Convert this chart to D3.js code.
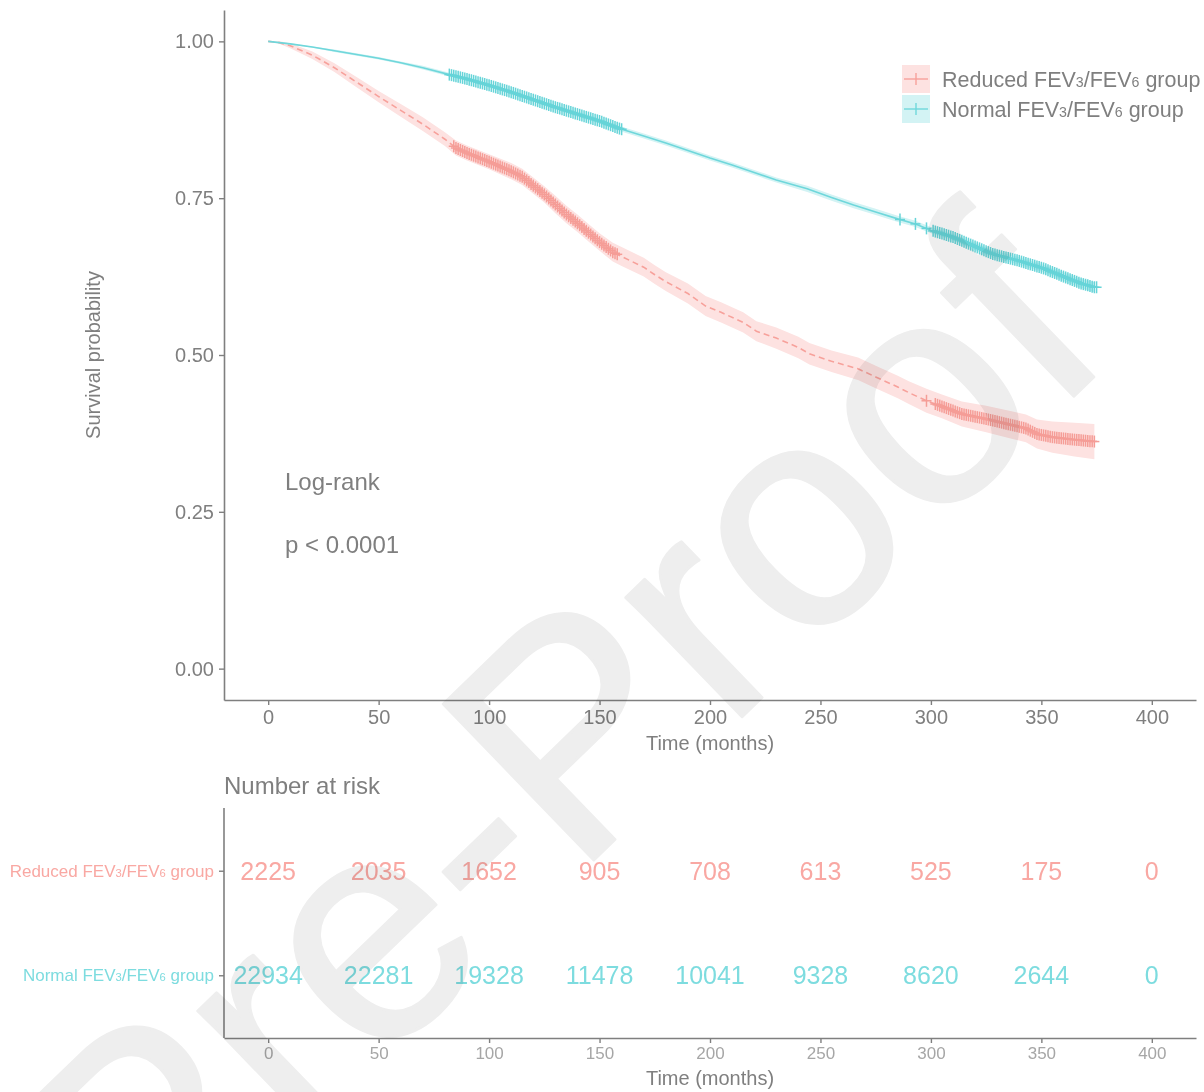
<!DOCTYPE html>
<html>
<head>
<meta charset="utf-8">
<script src="https://cdn.jsdelivr.net/npm/d3@7"></script>
<style>
  body { margin: 0; background: #fff; }
  svg { display: block; font-family: "Liberation Sans", Arial, sans-serif; }
</style>
</head>
<body>
<svg id="chart" width="1204" height="1092"></svg>
<script>
// survival curves
const timesReduced = [0, 5, 10, 20, 30, 40, 50, 60, 70, 80, 85, 90, 100, 110, 115, 120, 125, 130, 135, 140, 145, 150, 156, 160, 170, 175, 180, 190, 198, 205, 215, 221, 230, 240, 245, 255, 267, 275, 285, 290, 298, 305, 314, 325, 337, 343, 348, 355, 365, 374];
const survReduced = [1.000, 0.998, 0.993, 0.978, 0.958, 0.935, 0.912, 0.890, 0.868, 0.844, 0.830, 0.822, 0.808, 0.793, 0.784, 0.770, 0.756, 0.740, 0.724, 0.710, 0.695, 0.680, 0.664, 0.657, 0.640, 0.628, 0.617, 0.598, 0.578, 0.568, 0.552, 0.538, 0.527, 0.512, 0.502, 0.490, 0.478, 0.465, 0.449, 0.440, 0.427, 0.418, 0.406, 0.398, 0.388, 0.383, 0.374, 0.369, 0.365, 0.362];
const ciReduced = [0, 0.002, 0.004, 0.006, 0.007, 0.008, 0.009, 0.010, 0.011, 0.011, 0.012, 0.012, 0.012, 0.013, 0.013, 0.013, 0.013, 0.014, 0.014, 0.014, 0.014, 0.014, 0.015, 0.015, 0.015, 0.015, 0.015, 0.016, 0.016, 0.016, 0.016, 0.016, 0.017, 0.017, 0.017, 0.017, 0.018, 0.018, 0.018, 0.018, 0.019, 0.019, 0.020, 0.021, 0.022, 0.022, 0.023, 0.025, 0.027, 0.028];

const timesNormal = [0, 10, 20, 30, 40, 50, 60, 70, 82, 90, 100, 110, 120, 130, 140, 150, 159, 170, 180, 190, 200, 210, 220, 230, 244, 255, 265, 275, 285, 293, 300, 310, 320, 328, 340, 351, 360, 368, 374];
const survNormal = [1.000, 0.996, 0.991, 0.985, 0.979, 0.973, 0.966, 0.958, 0.947, 0.940, 0.930, 0.919, 0.907, 0.895, 0.884, 0.873, 0.861, 0.849, 0.838, 0.826, 0.814, 0.803, 0.791, 0.779, 0.765, 0.751, 0.739, 0.728, 0.717, 0.709, 0.699, 0.688, 0.673, 0.661, 0.650, 0.638, 0.625, 0.614, 0.608];
const ciNormal = [0, 0.001, 0.001, 0.002, 0.002, 0.002, 0.002, 0.003, 0.003, 0.003, 0.003, 0.003, 0.003, 0.003, 0.004, 0.004, 0.004, 0.004, 0.004, 0.004, 0.004, 0.004, 0.004, 0.004, 0.005, 0.005, 0.005, 0.005, 0.005, 0.005, 0.005, 0.005, 0.006, 0.006, 0.006, 0.006, 0.007, 0.007, 0.008];

// censoring times (months)
const censorReduced = [84, 85, 86, 87, 88, 89, 90, 91, 92, 93, 94, 95, 96, 97, 98, 99, 100, 101, 102, 103, 104, 105, 106, 107, 108, 109, 110, 111, 112, 113, 114, 115, 116, 117, 118, 119, 120, 121, 122, 123, 124, 125, 126, 127, 128, 129, 130, 131, 132, 133, 134, 135, 136, 137, 138, 139, 140, 141, 142, 143, 144, 145, 146, 147, 148, 149, 150, 151, 152, 153, 154, 155, 156, 157, 158,
  298, 302, 303, 304, 305, 306, 307, 308, 309, 310, 311, 312, 313, 314, 315, 316, 317, 318, 319, 320, 321, 322, 323, 324, 325, 326, 327, 328, 329, 330, 331, 332, 333, 334, 335, 336, 337, 338, 339, 340, 341, 342, 343, 344, 345, 346, 347, 348, 349, 350, 351, 352, 353, 354, 355, 356, 357, 358, 359, 360, 361, 362, 363, 364, 365, 366, 367, 368, 369, 370, 371, 372, 373, 374];
const censorNormal = [82, 83, 84, 85, 86, 87, 88, 89, 90, 91, 92, 93, 94, 95, 96, 97, 98, 99, 100, 101, 102, 103, 104, 105, 106, 107, 108, 109, 110, 111, 112, 113, 114, 115, 116, 117, 118, 119, 120, 121, 122, 123, 124, 125, 126, 127, 128, 129, 130, 131, 132, 133, 134, 135, 136, 137, 138, 139, 140, 141, 142, 143, 144, 145, 146, 147, 148, 149, 150, 151, 152, 153, 154, 155, 156, 157, 158, 159, 160,
  286, 293, 298, 301, 302, 303, 304, 305, 306, 307, 308, 309, 310, 311, 312, 313, 314, 315, 316, 317, 318, 319, 320, 321, 322, 323, 324, 325, 326, 327, 328, 329, 330, 331, 332, 333, 334, 335, 336, 337, 338, 339, 340, 341, 342, 343, 344, 345, 346, 347, 348, 349, 350, 351, 352, 353, 354, 355, 356, 357, 358, 359, 360, 361, 362, 363, 364, 365, 366, 367, 368, 369, 370, 371, 372, 373, 374, 375];

// number at risk
const riskTimes = [0, 50, 100, 150, 200, 250, 300, 350, 400];
const riskReduced = [2225, 2035, 1652, 905, 708, 613, 525, 175, 0];
const riskNormal = [22934, 22281, 19328, 11478, 10041, 9328, 8620, 2644, 0];

const xTicks = [0, 50, 100, 150, 200, 250, 300, 350, 400];
const yTicks = [0, 0.25, 0.5, 0.75, 1];

const groups = [
  { key: 'Reduced', label: 'Reduced FEV', t: timesReduced, s: survReduced, ci: ciReduced, cens: censorReduced,
    line: '#f7a19b', mark: '#f59d97', band: '#fde2e1', text: '#f9a8a3', dash: '6,4' },
  { key: 'Normal', label: 'Normal FEV', t: timesNormal, s: survNormal, ci: ciNormal, cens: censorNormal,
    line: '#6fd7db', mark: '#66d4d8', band: '#d3f3f4', text: '#7ddcdf', dash: null }
];

const grey = '#7f7f7f';
const svg = d3.select('#chart');

const x = d3.scaleLinear().domain([-20, 420]).range([224, 1196]);
const y = d3.scaleLinear().domain([-0.05, 1.05]).range([700, 10]);

// step lookup for censor marks
function survAt(g, t) {
  const i = d3.bisectRight(g.t, t) - 1;
  if (i >= g.t.length - 1) return g.s[g.s.length - 1];
  const f = (t - g.t[i]) / (g.t[i + 1] - g.t[i]);
  return g.s[i] + f * (g.s[i + 1] - g.s[i]);
}

const plot = svg.append('g');

groups.forEach(g => {
  const pts = g.t.map((t, i) => ({ t: t, s: g.s[i], lo: g.s[i] - g.ci[i], hi: g.s[i] + g.ci[i] }));
  plot.append('path')
    .datum(pts)
    .attr('fill', g.band)
    .attr('d', d3.area().x(d => x(d.t)).y0(d => y(d.lo)).y1(d => y(d.hi)));
});

groups.forEach(g => {
  const pts = g.t.map((t, i) => ({ t: t, s: g.s[i] }));
  plot.append('path')
    .datum(pts)
    .attr('fill', 'none')
    .attr('stroke', g.line)
    .attr('stroke-width', 1.6)
    .attr('stroke-dasharray', g.dash)
    .attr('d', d3.line().x(d => x(d.t)).y(d => y(d.s)));

  const cross = plot.append('g').attr('stroke', g.mark).attr('stroke-width', 1.5);
  g.cens.forEach(t => {
    const cx = x(t), cy = y(survAt(g, t));
    cross.append('line').attr('x1', cx - 5).attr('x2', cx + 5).attr('y1', cy).attr('y2', cy);
    cross.append('line').attr('x1', cx).attr('x2', cx).attr('y1', cy - 6).attr('y2', cy + 6);
  });
});

// axes
function styleAxis(sel, size, col) {
  sel.selectAll('path').attr('stroke', grey).attr('stroke-width', 1.6);
  sel.selectAll('line').attr('stroke', grey).attr('stroke-width', 1.4);
  sel.selectAll('text').attr('fill', col).style('font-size', size + 'px').style('font-family', '"Liberation Sans", Arial, sans-serif');
}

svg.append('g')
  .attr('transform', 'translate(0,700)')
  .call(d3.axisBottom(x).tickValues(xTicks).tickSize(5).tickSizeOuter(0).tickPadding(5))
  .call(s => styleAxis(s, 20, grey));

svg.append('g')
  .attr('transform', 'translate(224,0)')
  .call(d3.axisLeft(y).tickValues(yTicks).tickFormat(d3.format('.2f')).tickSize(5).tickSizeOuter(0).tickPadding(5))
  .call(s => styleAxis(s, 20, grey));

svg.append('text')
  .attr('x', 710).attr('y', 750).attr('text-anchor', 'middle')
  .attr('fill', grey).style('font-size', '20px').text('Time (months)');

svg.append('text')
  .attr('transform', 'translate(100,355) rotate(-90)').attr('text-anchor', 'middle')
  .attr('fill', grey).style('font-size', '20px').text('Survival probability');

svg.append('text').attr('x', 285).attr('y', 490).attr('fill', grey).style('font-size', '24px').text('Log-rank');
svg.append('text').attr('x', 285).attr('y', 553).attr('fill', grey).style('font-size', '24px').text('p < 0.0001');

// legend
function groupLabel(sel, g) {
  sel.append('tspan').text(g.label);
  sel.append('tspan').style('font-size', '0.66em').text('3');
  sel.append('tspan').text('/FEV');
  sel.append('tspan').style('font-size', '0.66em').text('6');
  sel.append('tspan').text(' group');
}

const legend = svg.append('g').attr('transform', 'translate(902,65)');
groups.forEach((g, i) => {
  const row = legend.append('g').attr('transform', `translate(0,${i * 30})`);
  row.append('rect').attr('width', 28).attr('height', 28).attr('fill', g.band);
  row.append('line').attr('x1', 2).attr('x2', 26).attr('y1', 14).attr('y2', 14).attr('stroke', g.line).attr('stroke-width', 1.4);
  row.append('line').attr('x1', 14).attr('x2', 14).attr('y1', 8).attr('y2', 20).attr('stroke', g.line).attr('stroke-width', 1.4);
  row.append('text').attr('x', 40).attr('y', 22).attr('fill', grey).style('font-size', '21.5px').call(groupLabel, g);
});

// risk table
const yr = d3.scalePoint().domain(['Normal', 'Reduced']).range([1038, 808]).padding(0.6);

svg.append('text').attr('x', 224).attr('y', 794).attr('fill', grey).style('font-size', '24px').text('Number at risk');

svg.append('g')
  .attr('transform', 'translate(0,1038)')
  .call(d3.axisBottom(x).tickValues(xTicks).tickSize(5).tickSizeOuter(0).tickPadding(4))
  .call(s => styleAxis(s, 17, '#a6a6a6'));

const yAxisR = svg.append('g')
  .attr('transform', 'translate(224,0)')
  .call(d3.axisLeft(yr).tickSize(5).tickSizeOuter(0).tickPadding(5).tickFormat(() => ''))
  .call(s => styleAxis(s, 17, grey));
yAxisR.select('path').attr('d', 'M0,808V1038');
yAxisR.selectAll('.tick text').remove();

groups.forEach(g => {
  svg.append('text')
    .attr('x', 214).attr('y', yr(g.key) + 6).attr('text-anchor', 'end')
    .attr('fill', g.text).style('font-size', '17px').call(groupLabel, g);
  const vals = g.key === 'Reduced' ? riskReduced : riskNormal;
  svg.append('g').selectAll('text').data(vals).join('text')
    .attr('x', (d, i) => x(riskTimes[i])).attr('y', yr(g.key) + 9)
    .attr('text-anchor', 'middle').attr('fill', g.text).style('font-size', '25px')
    .text(d => d);
});

svg.append('text')
  .attr('x', 710).attr('y', 1085).attr('text-anchor', 'middle')
  .attr('fill', grey).style('font-size', '20px').text('Time (months)');

// watermark
svg.append('text')
  .attr('transform', 'translate(632,823) rotate(-44)')
  .attr('text-anchor', 'middle')
  .style('font-size', '315px')
  .attr('fill', '#eeeeee').attr('stroke', '#eeeeee').attr('stroke-width', 3).attr('stroke-linejoin', 'round')
  .style('mix-blend-mode', 'multiply')
  .text('Pre-Proof');
</script>
</body>
</html>
